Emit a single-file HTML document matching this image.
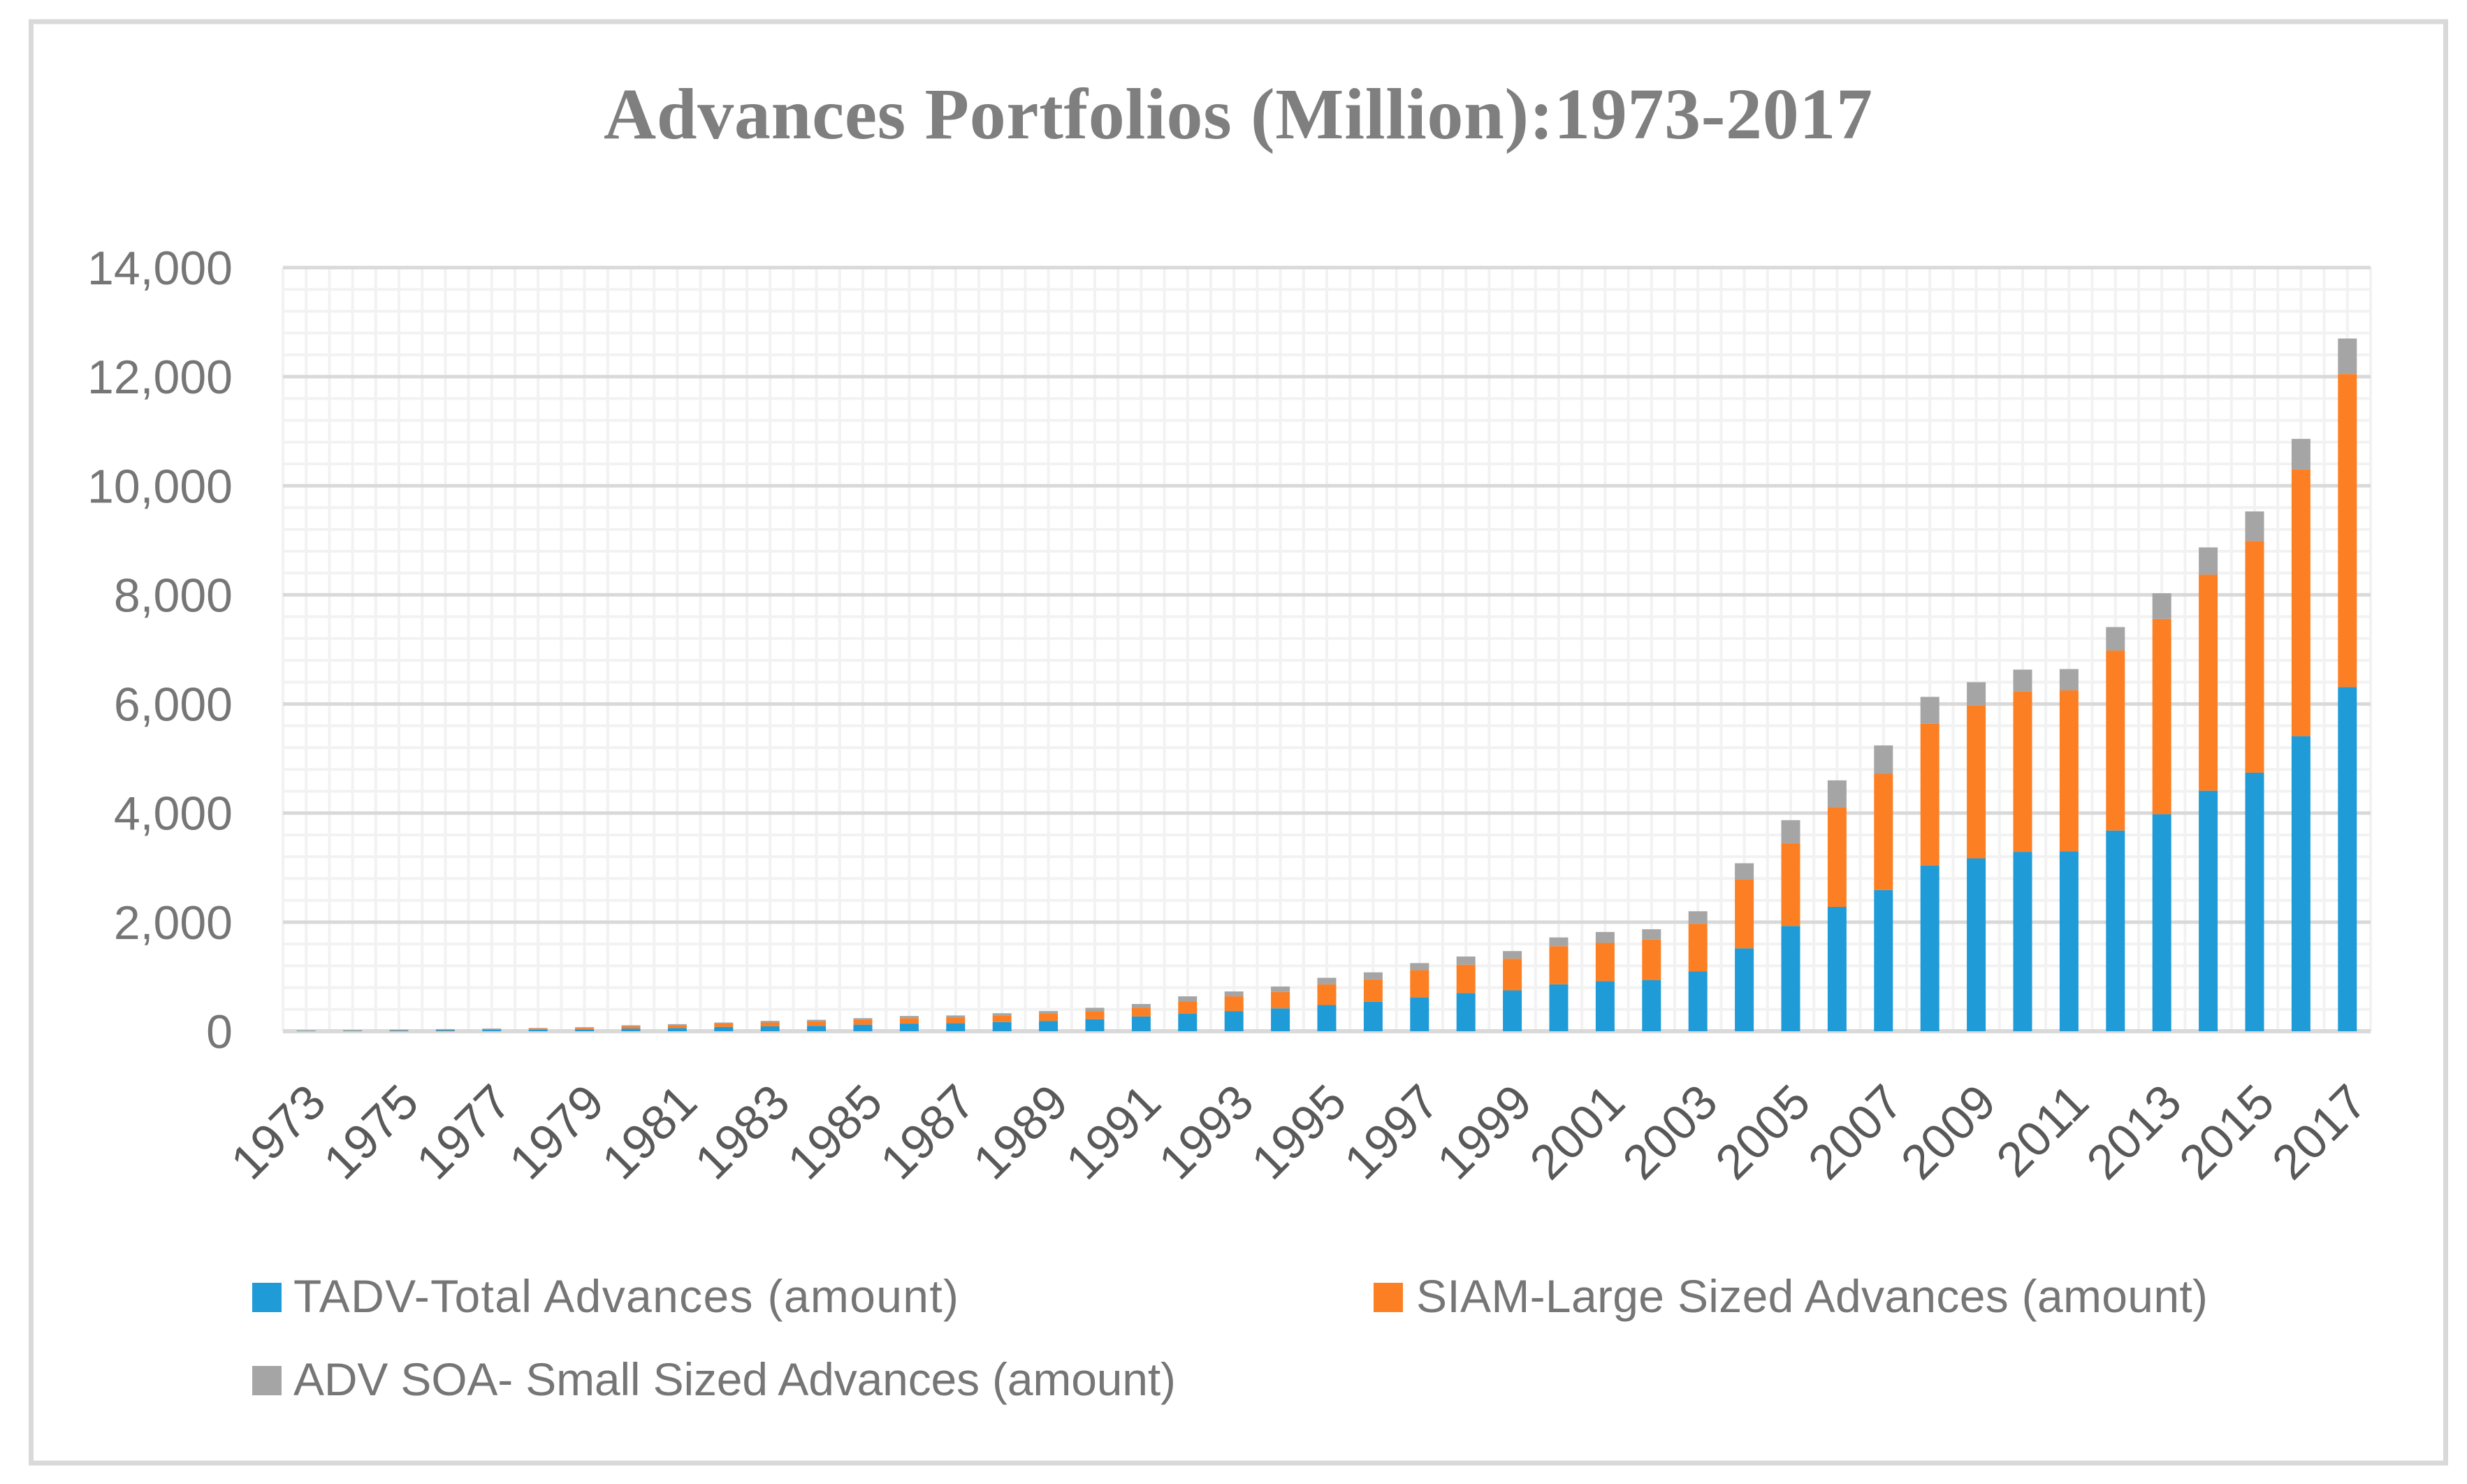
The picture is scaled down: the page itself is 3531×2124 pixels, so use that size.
<!DOCTYPE html>
<html><head><meta charset="utf-8"><style>
html,body{margin:0;padding:0;background:#fff;}
svg{display:block;}
</style></head><body>
<svg id="chart" width="3531" height="2124" viewBox="0 0 3531 2124" xmlns="http://www.w3.org/2000/svg">
<rect x="44.5" y="31" width="3456" height="2063" fill="#fff" stroke="#d9d9d9" stroke-width="7"/>
<text x="864" y="198" textLength="1816" font-family="Liberation Serif, serif" font-weight="bold" font-size="104" fill="#7f7f7f">Advances Portfolios (Million):1973-2017</text>
<g id="grid"></g>
<g id="yaxis"></g>
<g id="bars"></g>
<g id="xaxis"></g>
<g>
<g>
<rect x="361" y="1836" width="42" height="42" fill="#1f9bd7"/>
<text x="420" y="1878" textLength="952" font-family="Liberation Sans, sans-serif" font-size="66" fill="#767676">TADV-Total Advances (amount)</text></g>
<g>
<rect x="1966" y="1836" width="42" height="42" fill="#fd7f24"/>
<text x="2027" y="1878" textLength="1133" font-family="Liberation Sans, sans-serif" font-size="66" fill="#767676">SIAM-Large Sized Advances (amount)</text></g>
<g>
<rect x="361" y="1955" width="42" height="42" fill="#a5a5a5"/>
<text x="420" y="1997" textLength="1263" font-family="Liberation Sans, sans-serif" font-size="66" fill="#767676">ADV SOA- Small Sized Advances (amount)</text></g>
</g>
</svg>
<script>
const years = [];
for (let y = 1973; y <= 2017; y++) years.push(String(y));
const tadv = [8,10,15,20,25,30,35,50,60,80,90,100,120,140,150,170,190,220,270,320,370,420,480,540,620,700,750,860,920,940,1100,1520,1930,2280,2590,3040,3170,3290,3300,3680,3980,4410,4740,5410,6310];
const siam = [4,6,7,10,15,20,25,40,50,60,70,80,90,100,100,120,130,150,160,230,270,300,380,410,500,520,580,700,700,740,870,1260,1520,1830,2130,2600,2800,2940,2950,3300,3580,3960,4250,4890,5740];
const advSoa = [4,6,8,10,10,10,15,20,20,20,30,30,30,40,40,40,50,60,70,90,90,100,120,130,130,150,140,160,200,190,230,300,420,490,520,490,430,400,390,430,470,500,540,560,650];
const yTicks = [0,2000,4000,6000,8000,10000,12000,14000];
const yTickLabels = ["0","2,000","4,000","6,000","8,000","10,000","12,000","14,000"];

const NS = "http://www.w3.org/2000/svg";
const L = 405, R = 3393, T = 383, B = 1476, YMAX = 14000;
const n = years.length, band = (R - L) / n;
const yS = v => B - v / YMAX * (B - T);
const xC = i => L + band * (i + 0.5);
function mk(tag, attrs, parent){const e=document.createElementNS(NS,tag);for(const k in attrs)e.setAttribute(k,attrs[k]);parent.appendChild(e);return e;}
const grid = document.getElementById('grid');
for (let v = 0; v <= YMAX; v += 400) {
  const el = mk('line',{x1:L,x2:R,y1:yS(v),y2:yS(v),stroke:'#f2f2f2','stroke-width':4},grid);
  
  
}
for (let i = 0; i <= 2*n; i++) {
  const x = L + band*i/2;
  const el = mk('line',{x1:x,x2:x,y1:T,y2:B,stroke:'#f2f2f2','stroke-width':4},grid);
  
  
}
const yax = document.getElementById('yaxis');
yTicks.forEach((v,i)=>{
  if (v>0){
  const g = mk('line',{x1:L,x2:R,y1:yS(v),y2:yS(v),stroke:'#d9d9d9','stroke-width':5},grid);
  
  }
  const t = mk('text',{x:333,y:yS(v)+24,'text-anchor':'end','font-family':'Liberation Sans, sans-serif','font-size':68,fill:'#767676'},yax);
  t.textContent = yTickLabels[i];
  
  
});
const bars = document.getElementById('bars');
const bw = 27;
years.forEach((yr,i)=>{
  const a = tadv[i], b = siam[i], c = advSoa[i];
  const segs = [[0,a,'#1f9bd7','bar-tadv'],[a,a+b,'#fd7f24','bar-siam'],[a+b,a+b+c,'#a5a5a5','bar-adv-soa']];
  segs.forEach(s=>{
    const r = mk('rect',{x:xC(i)-bw/2,y:yS(s[1]),width:bw,height:Math.max(0,yS(s[0])-yS(s[1])),fill:s[2]},bars);
    
    
  });
});
const ax = mk('line',{x1:L,x2:R,y1:B,y2:B,stroke:'#d9d9d9','stroke-width':6},grid);


const xax = document.getElementById('xaxis');
years.forEach((yr,i)=>{
  if (i%2) return;
  const x = xC(i)+32, y = 1582;
  const t = mk('text',{x:x,y:y,'text-anchor':'end',transform:`rotate(-45 ${x} ${y})`,'font-family':'Liberation Sans, sans-serif','font-size':70,fill:'#595959'},xax);
  t.textContent = yr;
  
  
});
</script>
</body></html>
